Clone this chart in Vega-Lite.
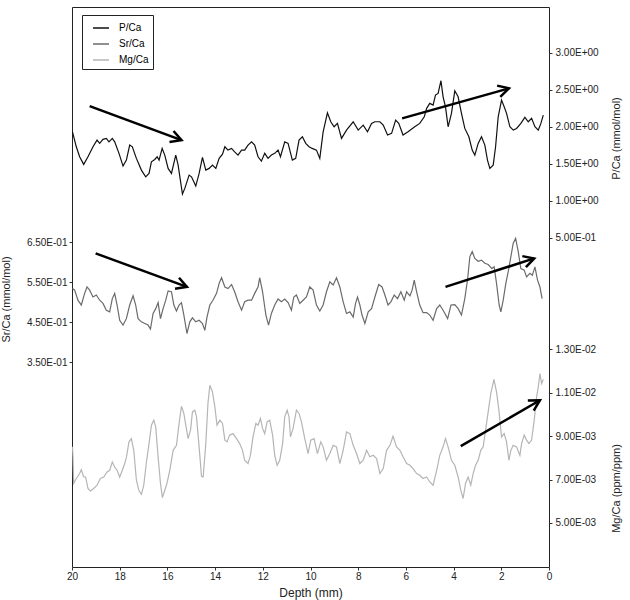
{
"$schema": "https://vega.github.io/schema/vega-lite/v6.json",
"width": 477,
"height": 560,
"autosize": {"type": "none"},
"padding": {"left": 72, "top": 7, "right": 81, "bottom": 33},
"background": "white",
"config": {
  "view": {"stroke": "#222222", "strokeWidth": 1},
  "font": "Liberation Sans",
  "axis": {"grid": false, "domain": false, "labelFont": "Liberation Sans", "labelFontSize": 10, "labelColor": "#222222", "titleFont": "Liberation Sans", "titleFontSize": 11, "titleFontWeight": "normal", "titleColor": "#222222", "tickColor": "#333333", "tickSize": 3, "labelPadding": 2},
  "axisX": {"labelFlush": false, "titleFontSize": 12, "labelPadding": 1},
  "legend": {"labelFont": "Liberation Sans"}
},
"datasets": {
  "pca": [
{"depth":19.98,"value":1.93},{"depth":19.82,"value":1.73},{"depth":19.68,"value":1.595},{"depth":19.51,"value":1.492},{"depth":19.33,"value":1.595},{"depth":19.12,"value":1.73},{"depth":18.95,"value":1.82},{"depth":18.84,"value":1.776},{"depth":18.70,"value":1.83},{"depth":18.56,"value":1.843},{"depth":18.45,"value":1.797},{"depth":18.31,"value":1.843},{"depth":18.21,"value":1.797},{"depth":18.03,"value":1.641},{"depth":17.86,"value":1.469},{"depth":17.72,"value":1.55},{"depth":17.58,"value":1.753},{"depth":17.47,"value":1.73},{"depth":17.30,"value":1.573},{"depth":17.09,"value":1.415},{"depth":16.91,"value":1.324},{"depth":16.77,"value":1.37},{"depth":16.67,"value":1.527},{"depth":16.53,"value":1.559},{"depth":16.43,"value":1.595},{"depth":16.35,"value":1.55},{"depth":16.22,"value":1.708},{"depth":16.11,"value":1.618},{"depth":15.97,"value":1.438},{"depth":15.83,"value":1.37},{"depth":15.65,"value":1.618},{"depth":15.55,"value":1.482},{"depth":15.37,"value":1.091},{"depth":15.27,"value":1.168},{"depth":15.09,"value":1.347},{"depth":14.99,"value":1.324},{"depth":14.81,"value":1.199},{"depth":14.67,"value":1.37},{"depth":14.53,"value":1.586},{"depth":14.39,"value":1.415},{"depth":14.25,"value":1.438},{"depth":14.11,"value":1.482},{"depth":13.97,"value":1.438},{"depth":13.83,"value":1.573},{"depth":13.69,"value":1.631},{"depth":13.59,"value":1.73},{"depth":13.46,"value":1.685},{"depth":13.31,"value":1.708},{"depth":13.18,"value":1.662},{"depth":13.04,"value":1.618},{"depth":12.89,"value":1.685},{"depth":12.76,"value":1.685},{"depth":12.62,"value":1.753},{"depth":12.47,"value":1.797},{"depth":12.34,"value":1.753},{"depth":12.20,"value":1.595},{"depth":12.06,"value":1.536},{"depth":11.92,"value":1.641},{"depth":11.78,"value":1.573},{"depth":11.64,"value":1.618},{"depth":11.50,"value":1.641},{"depth":11.36,"value":1.685},{"depth":11.26,"value":1.595},{"depth":11.08,"value":1.797},{"depth":10.94,"value":1.776},{"depth":10.76,"value":1.55},{"depth":10.62,"value":1.573},{"depth":10.48,"value":1.82},{"depth":10.34,"value":1.865},{"depth":10.20,"value":1.776},{"depth":10.06,"value":1.73},{"depth":9.93,"value":1.708},{"depth":9.75,"value":1.685},{"depth":9.61,"value":1.573},{"depth":9.47,"value":1.932},{"depth":9.29,"value":2.189},{"depth":9.15,"value":2.068},{"depth":9.01,"value":2.0},{"depth":8.87,"value":2.046},{"depth":8.70,"value":1.843},{"depth":8.49,"value":1.955},{"depth":8.21,"value":2.068},{"depth":8.00,"value":1.955},{"depth":7.79,"value":2.023},{"depth":7.61,"value":1.932},{"depth":7.44,"value":2.046},{"depth":7.30,"value":2.068},{"depth":7.09,"value":2.068},{"depth":6.95,"value":2.023},{"depth":6.77,"value":1.888},{"depth":6.60,"value":1.911},{"depth":6.43,"value":2.091},{"depth":6.30,"value":2.046},{"depth":6.12,"value":1.888},{"depth":5.91,"value":1.932},{"depth":5.63,"value":2.0},{"depth":5.42,"value":2.046},{"depth":5.23,"value":2.135},{"depth":5.13,"value":2.249},{"depth":5.00,"value":2.316},{"depth":4.86,"value":2.293},{"depth":4.76,"value":2.428},{"depth":4.65,"value":2.451},{"depth":4.53,"value":2.622},{"depth":4.44,"value":2.405},{"depth":4.34,"value":2.27},{"depth":4.23,"value":2.0},{"depth":4.09,"value":2.181},{"depth":3.95,"value":2.486},{"depth":3.81,"value":2.405},{"depth":3.67,"value":2.181},{"depth":3.53,"value":1.978},{"depth":3.36,"value":1.865},{"depth":3.22,"value":1.685},{"depth":3.11,"value":1.618},{"depth":2.97,"value":1.776},{"depth":2.83,"value":1.865},{"depth":2.69,"value":1.753},{"depth":2.58,"value":1.55},{"depth":2.48,"value":1.438},{"depth":2.34,"value":1.482},{"depth":2.24,"value":1.73},{"depth":2.13,"value":2.135},{"depth":1.99,"value":2.361},{"depth":1.88,"value":2.27},{"depth":1.78,"value":2.181},{"depth":1.64,"value":2.0},{"depth":1.50,"value":1.955},{"depth":1.36,"value":1.978},{"depth":1.18,"value":2.046},{"depth":1.01,"value":2.127},{"depth":0.87,"value":2.068},{"depth":0.73,"value":2.114},{"depth":0.59,"value":2.0},{"depth":0.45,"value":1.955},{"depth":0.34,"value":2.046},{"depth":0.24,"value":2.158}
  ],
  "srca": [
{"depth":19.98,"value":0.534},{"depth":19.89,"value":0.530},{"depth":19.75,"value":0.505},{"depth":19.61,"value":0.493},{"depth":19.47,"value":0.522},{"depth":19.37,"value":0.538},{"depth":19.26,"value":0.530},{"depth":19.12,"value":0.513},{"depth":18.98,"value":0.518},{"depth":18.84,"value":0.505},{"depth":18.70,"value":0.497},{"depth":18.56,"value":0.480},{"depth":18.42,"value":0.476},{"depth":18.31,"value":0.509},{"depth":18.21,"value":0.522},{"depth":18.11,"value":0.493},{"depth":18.00,"value":0.455},{"depth":17.86,"value":0.443},{"depth":17.72,"value":0.459},{"depth":17.58,"value":0.493},{"depth":17.44,"value":0.516},{"depth":17.33,"value":0.493},{"depth":17.23,"value":0.459},{"depth":17.09,"value":0.451},{"depth":16.95,"value":0.447},{"depth":16.81,"value":0.443},{"depth":16.71,"value":0.433},{"depth":16.60,"value":0.472},{"depth":16.49,"value":0.484},{"depth":16.39,"value":0.499},{"depth":16.29,"value":0.459},{"depth":16.18,"value":0.484},{"depth":16.07,"value":0.505},{"depth":15.97,"value":0.528},{"depth":15.83,"value":0.526},{"depth":15.73,"value":0.493},{"depth":15.62,"value":0.478},{"depth":15.51,"value":0.493},{"depth":15.41,"value":0.499},{"depth":15.31,"value":0.468},{"depth":15.18,"value":0.422},{"depth":15.06,"value":0.451},{"depth":14.95,"value":0.461},{"depth":14.81,"value":0.451},{"depth":14.67,"value":0.455},{"depth":14.53,"value":0.447},{"depth":14.43,"value":0.430},{"depth":14.34,"value":0.463},{"depth":14.22,"value":0.493},{"depth":14.09,"value":0.505},{"depth":13.94,"value":0.522},{"depth":13.83,"value":0.547},{"depth":13.73,"value":0.561},{"depth":13.59,"value":0.538},{"depth":13.46,"value":0.534},{"depth":13.31,"value":0.544},{"depth":13.18,"value":0.526},{"depth":13.04,"value":0.501},{"depth":12.89,"value":0.480},{"depth":12.76,"value":0.501},{"depth":12.62,"value":0.505},{"depth":12.47,"value":0.505},{"depth":12.34,"value":0.522},{"depth":12.20,"value":0.538},{"depth":12.13,"value":0.561},{"depth":12.01,"value":0.526},{"depth":11.87,"value":0.468},{"depth":11.76,"value":0.443},{"depth":11.64,"value":0.472},{"depth":11.50,"value":0.493},{"depth":11.36,"value":0.508},{"depth":11.22,"value":0.501},{"depth":11.08,"value":0.508},{"depth":10.94,"value":0.499},{"depth":10.80,"value":0.480},{"depth":10.70,"value":0.513},{"depth":10.59,"value":0.518},{"depth":10.45,"value":0.497},{"depth":10.31,"value":0.505},{"depth":10.17,"value":0.513},{"depth":10.03,"value":0.538},{"depth":9.89,"value":0.530},{"depth":9.75,"value":0.493},{"depth":9.61,"value":0.478},{"depth":9.47,"value":0.493},{"depth":9.33,"value":0.526},{"depth":9.19,"value":0.551},{"depth":9.05,"value":0.543},{"depth":8.91,"value":0.561},{"depth":8.77,"value":0.538},{"depth":8.63,"value":0.501},{"depth":8.49,"value":0.472},{"depth":8.35,"value":0.476},{"depth":8.21,"value":0.463},{"depth":8.11,"value":0.497},{"depth":8.03,"value":0.513},{"depth":7.93,"value":0.493},{"depth":7.84,"value":0.468},{"depth":7.72,"value":0.447},{"depth":7.58,"value":0.476},{"depth":7.44,"value":0.484},{"depth":7.30,"value":0.513},{"depth":7.14,"value":0.544},{"depth":7.00,"value":0.538},{"depth":6.88,"value":0.518},{"depth":6.75,"value":0.493},{"depth":6.63,"value":0.501},{"depth":6.49,"value":0.518},{"depth":6.35,"value":0.509},{"depth":6.21,"value":0.526},{"depth":6.07,"value":0.505},{"depth":5.97,"value":0.526},{"depth":5.83,"value":0.516},{"depth":5.74,"value":0.530},{"depth":5.65,"value":0.555},{"depth":5.55,"value":0.526},{"depth":5.42,"value":0.493},{"depth":5.28,"value":0.474},{"depth":5.13,"value":0.474},{"depth":5.00,"value":0.468},{"depth":4.86,"value":0.455},{"depth":4.71,"value":0.484},{"depth":4.58,"value":0.493},{"depth":4.44,"value":0.480},{"depth":4.25,"value":0.459},{"depth":4.11,"value":0.493},{"depth":3.95,"value":0.494},{"depth":3.81,"value":0.484},{"depth":3.67,"value":0.468},{"depth":3.53,"value":0.509},{"depth":3.41,"value":0.559},{"depth":3.32,"value":0.613},{"depth":3.22,"value":0.626},{"depth":3.11,"value":0.609},{"depth":2.97,"value":0.602},{"depth":2.83,"value":0.605},{"depth":2.69,"value":0.597},{"depth":2.55,"value":0.594},{"depth":2.40,"value":0.584},{"depth":2.30,"value":0.588},{"depth":2.20,"value":0.547},{"depth":2.09,"value":0.493},{"depth":2.02,"value":0.476},{"depth":1.92,"value":0.505},{"depth":1.81,"value":0.547},{"depth":1.71,"value":0.576},{"depth":1.60,"value":0.613},{"depth":1.50,"value":0.647},{"depth":1.40,"value":0.659},{"depth":1.29,"value":0.626},{"depth":1.18,"value":0.584},{"depth":1.04,"value":0.580},{"depth":0.94,"value":0.563},{"depth":0.80,"value":0.572},{"depth":0.70,"value":0.567},{"depth":0.59,"value":0.588},{"depth":0.48,"value":0.555},{"depth":0.38,"value":0.538},{"depth":0.29,"value":0.509}
  ],
  "mgca": [
{"depth":19.98,"value":0.00851},{"depth":19.96,"value":0.00805},{"depth":19.93,"value":0.00682},{"depth":19.82,"value":0.00705},{"depth":19.68,"value":0.00728},{"depth":19.61,"value":0.00746},{"depth":19.51,"value":0.00712},{"depth":19.43,"value":0.00712},{"depth":19.33,"value":0.00659},{"depth":19.23,"value":0.00648},{"depth":19.09,"value":0.00659},{"depth":18.95,"value":0.00674},{"depth":18.81,"value":0.00705},{"depth":18.67,"value":0.00712},{"depth":18.53,"value":0.00735},{"depth":18.42,"value":0.00743},{"depth":18.31,"value":0.00781},{"depth":18.21,"value":0.00758},{"depth":18.11,"value":0.00743},{"depth":18.00,"value":0.00712},{"depth":17.89,"value":0.00743},{"depth":17.79,"value":0.00774},{"depth":17.72,"value":0.00802},{"depth":17.61,"value":0.00874},{"depth":17.51,"value":0.00889},{"depth":17.41,"value":0.00835},{"depth":17.30,"value":0.00697},{"depth":17.19,"value":0.00648},{"depth":17.09,"value":0.00632},{"depth":16.99,"value":0.00674},{"depth":16.88,"value":0.00781},{"depth":16.77,"value":0.00866},{"depth":16.67,"value":0.00951},{"depth":16.57,"value":0.00974},{"depth":16.49,"value":0.00943},{"depth":16.39,"value":0.00805},{"depth":16.29,"value":0.00682},{"depth":16.21,"value":0.00617},{"depth":16.11,"value":0.00651},{"depth":16.02,"value":0.00682},{"depth":15.90,"value":0.00743},{"depth":15.76,"value":0.00835},{"depth":15.62,"value":0.00858},{"depth":15.51,"value":0.00959},{"depth":15.41,"value":0.01038},{"depth":15.31,"value":0.01005},{"depth":15.23,"value":0.00951},{"depth":15.13,"value":0.00889},{"depth":15.03,"value":0.00928},{"depth":14.95,"value":0.01012},{"depth":14.85,"value":0.01020},{"depth":14.78,"value":0.00989},{"depth":14.67,"value":0.00851},{"depth":14.57,"value":0.00715},{"depth":14.50,"value":0.00712},{"depth":14.39,"value":0.00866},{"depth":14.30,"value":0.01051},{"depth":14.22,"value":0.01135},{"depth":14.11,"value":0.01104},{"depth":14.01,"value":0.01035},{"depth":13.92,"value":0.00951},{"depth":13.80,"value":0.00974},{"depth":13.69,"value":0.00959},{"depth":13.59,"value":0.00882},{"depth":13.50,"value":0.00874},{"depth":13.39,"value":0.00905},{"depth":13.25,"value":0.00912},{"depth":13.10,"value":0.00889},{"depth":12.97,"value":0.00866},{"depth":12.85,"value":0.00835},{"depth":12.76,"value":0.00789},{"depth":12.62,"value":0.00774},{"depth":12.52,"value":0.00812},{"depth":12.41,"value":0.00897},{"depth":12.29,"value":0.00959},{"depth":12.20,"value":0.00951},{"depth":12.10,"value":0.00982},{"depth":12.01,"value":0.00936},{"depth":11.92,"value":0.00912},{"depth":11.82,"value":0.00966},{"depth":11.71,"value":0.00974},{"depth":11.59,"value":0.00905},{"depth":11.50,"value":0.00812},{"depth":11.40,"value":0.00766},{"depth":11.29,"value":0.00789},{"depth":11.17,"value":0.00866},{"depth":11.08,"value":0.00989},{"depth":10.98,"value":0.01020},{"depth":10.90,"value":0.00989},{"depth":10.84,"value":0.00897},{"depth":10.73,"value":0.00936},{"depth":10.59,"value":0.01020},{"depth":10.48,"value":0.01005},{"depth":10.38,"value":0.00966},{"depth":10.24,"value":0.00889},{"depth":10.10,"value":0.00820},{"depth":9.99,"value":0.00882},{"depth":9.85,"value":0.00889},{"depth":9.71,"value":0.00820},{"depth":9.57,"value":0.00874},{"depth":9.47,"value":0.00851},{"depth":9.33,"value":0.00789},{"depth":9.19,"value":0.00820},{"depth":9.05,"value":0.00858},{"depth":8.91,"value":0.00851},{"depth":8.77,"value":0.00774},{"depth":8.63,"value":0.00835},{"depth":8.49,"value":0.00920},{"depth":8.35,"value":0.00912},{"depth":8.21,"value":0.00858},{"depth":8.07,"value":0.00820},{"depth":7.93,"value":0.00774},{"depth":7.79,"value":0.00789},{"depth":7.65,"value":0.00835},{"depth":7.51,"value":0.00805},{"depth":7.37,"value":0.00812},{"depth":7.23,"value":0.00797},{"depth":7.09,"value":0.00728},{"depth":6.95,"value":0.00751},{"depth":6.81,"value":0.00835},{"depth":6.67,"value":0.00858},{"depth":6.54,"value":0.00900},{"depth":6.39,"value":0.00851},{"depth":6.25,"value":0.00835},{"depth":6.12,"value":0.00805},{"depth":5.97,"value":0.00774},{"depth":5.83,"value":0.00766},{"depth":5.70,"value":0.00751},{"depth":5.55,"value":0.00728},{"depth":5.42,"value":0.00720},{"depth":5.28,"value":0.00705},{"depth":5.13,"value":0.00712},{"depth":5.00,"value":0.00689},{"depth":4.86,"value":0.00674},{"depth":4.71,"value":0.00743},{"depth":4.58,"value":0.00812},{"depth":4.44,"value":0.00851},{"depth":4.34,"value":0.00889},{"depth":4.23,"value":0.00851},{"depth":4.09,"value":0.00789},{"depth":3.95,"value":0.00766},{"depth":3.81,"value":0.00712},{"depth":3.70,"value":0.00651},{"depth":3.60,"value":0.00613},{"depth":3.50,"value":0.00682},{"depth":3.39,"value":0.00712},{"depth":3.28,"value":0.00674},{"depth":3.18,"value":0.00728},{"depth":3.08,"value":0.00766},{"depth":2.97,"value":0.00789},{"depth":2.86,"value":0.00835},{"depth":2.76,"value":0.00851},{"depth":2.66,"value":0.00928},{"depth":2.55,"value":0.01012},{"depth":2.44,"value":0.01097},{"depth":2.31,"value":0.01162},{"depth":2.20,"value":0.01104},{"depth":2.10,"value":0.01020},{"depth":1.99,"value":0.00897},{"depth":1.88,"value":0.00912},{"depth":1.78,"value":0.00874},{"depth":1.68,"value":0.00789},{"depth":1.60,"value":0.00835},{"depth":1.50,"value":0.00858},{"depth":1.36,"value":0.00851},{"depth":1.22,"value":0.00812},{"depth":1.15,"value":0.00866},{"depth":1.04,"value":0.00905},{"depth":0.94,"value":0.00882},{"depth":0.84,"value":0.00866},{"depth":0.73,"value":0.00882},{"depth":0.62,"value":0.00974},{"depth":0.52,"value":0.01081},{"depth":0.45,"value":0.01127},{"depth":0.38,"value":0.01189},{"depth":0.31,"value":0.01143},{"depth":0.24,"value":0.01162}
  ],
  "arrows": [
    {"id":"a1","series":"P/Ca","depth":19.26,"value":2.28,"depth2":15.41,"value2":1.82},
    {"id":"a2","series":"P/Ca","depth":6.16,"value":2.114,"depth2":1.68,"value2":2.519},
    {"id":"a3","series":"Sr/Ca","depth":19.01,"value":0.6216,"depth2":15.18,"value2":0.5383},
    {"id":"a4","series":"Sr/Ca","depth":4.34,"value":0.5383,"depth2":0.62,"value2":0.6091},
    {"id":"a5","series":"Mg/Ca","depth":3.70,"value":0.00854,"depth2":0.38,"value2":0.01066}
  ]
},
"layer": [
  {
    "data": {"name": "pca"},
    "mark": {"type": "line", "strokeWidth": 1.2},
    "encoding": {
      "x": {"field": "depth", "type": "quantitative", "scale": {"domain": [20, 0], "nice": false, "zero": false}, "axis": {"title": "Depth (mm)", "values": [0,2,4,6,8,10,12,14,16,18,20], "format": "d", "titleBaseline": "top", "titleY": 20}},
      "y": {"field": "value", "type": "quantitative", "scale": {"domain": [-3.946, 3.618], "nice": false, "zero": false}, "axis": {"orient": "right", "title": "P/Ca (mmol/mol)", "values": [0.5,1,1.5,2,2.5,3], "labelExpr": "datum.value < 1 ? format(datum.value*10, '.2f') + 'E-01' : format(datum.value, '.2f') + 'E+00'", "titleAngle": 270, "titleAlign": "center", "titleBaseline": "middle", "titleX": 67, "titleY": 131, "labelPadding": 3}},
      "color": {"datum": "P/Ca", "type": "nominal", "scale": {"domain": ["P/Ca","Sr/Ca","Mg/Ca"], "range": ["#111111","#6b6b6b","#b5b5b5"]}, "legend": {"orient": "none", "legendX": 10, "legendY": 8, "title": null, "strokeColor": "#222222", "fillColor": "white", "padding": 4, "symbolOffset": 6, "symbolType": "stroke", "symbolSize": 256, "symbolStrokeWidth": 1.5, "labelFontSize": 10, "labelOffset": 9, "rowPadding": 2, "labelExpr": "datum.label + '        '"}}
    }
  },
  {
    "data": {"name": "srca"},
    "mark": {"type": "line", "strokeWidth": 1.2},
    "encoding": {
      "x": {"field": "depth", "type": "quantitative", "scale": {"domain": [20, 0], "nice": false, "zero": false}},
      "y": {"field": "value", "type": "quantitative", "scale": {"domain": [-0.16, 1.2358], "nice": false, "zero": false}, "axis": {"orient": "left", "title": "Sr/Ca (mmol/mol)", "values": [0.35,0.45,0.55,0.65], "labelExpr": "format(datum.value*10, '.2f') + 'E-01'", "titleAngle": 270, "titleAlign": "center", "titleBaseline": "middle", "titleX": -66, "titleY": 292}},
      "color": {"datum": "Sr/Ca", "type": "nominal", "scale": {"domain": ["P/Ca","Sr/Ca","Mg/Ca"], "range": ["#111111","#6b6b6b","#b5b5b5"]}}
    }
  },
  {
    "data": {"name": "mgca"},
    "mark": {"type": "line", "strokeWidth": 1.2},
    "encoding": {
      "x": {"field": "depth", "type": "quantitative", "scale": {"domain": [20, 0], "nice": false, "zero": false}},
      "y": {"field": "value", "type": "quantitative", "scale": {"domain": [0.00297, 0.02879], "nice": false, "zero": false}, "axis": {"orient": "right", "title": "Mg/Ca (ppm/ppm)", "values": [0.005,0.007,0.009,0.011,0.013], "labelExpr": "datum.value >= 0.01 ? format(datum.value*100, '.2f') + 'E-02' : format(datum.value*1000, '.2f') + 'E-03'", "titleAngle": 270, "titleAlign": "center", "titleBaseline": "middle", "titleX": 67, "titleY": 481, "labelPadding": 3}},
      "color": {"datum": "Mg/Ca", "type": "nominal", "scale": {"domain": ["P/Ca","Sr/Ca","Mg/Ca"], "range": ["#111111","#6b6b6b","#b5b5b5"]}}
    }
  },
  {
    "data": {"name": "arrows"},
    "transform": [{"filter": "datum.series == 'P/Ca'"}],
    "mark": {"type": "rule", "strokeWidth": 2.5, "color": "#000000"},
    "encoding": {
      "x": {"field": "depth", "type": "quantitative", "scale": {"domain": [20, 0], "nice": false, "zero": false}},
      "x2": {"field": "depth2"},
      "y": {"field": "value", "type": "quantitative", "scale": {"domain": [-3.946, 3.618], "nice": false, "zero": false}, "axis": null},
      "y2": {"field": "value2"}
    }
  },
  {
    "data": {"name": "arrows"},
    "transform": [{"filter": "datum.series == 'Sr/Ca'"}],
    "mark": {"type": "rule", "strokeWidth": 2.5, "color": "#000000"},
    "encoding": {
      "x": {"field": "depth", "type": "quantitative", "scale": {"domain": [20, 0], "nice": false, "zero": false}},
      "x2": {"field": "depth2"},
      "y": {"field": "value", "type": "quantitative", "scale": {"domain": [-0.16, 1.2358], "nice": false, "zero": false}, "axis": null},
      "y2": {"field": "value2"}
    }
  },
  {
    "data": {"name": "arrows"},
    "transform": [{"filter": "datum.series == 'Mg/Ca'"}],
    "mark": {"type": "rule", "strokeWidth": 2.5, "color": "#000000"},
    "encoding": {
      "x": {"field": "depth", "type": "quantitative", "scale": {"domain": [20, 0], "nice": false, "zero": false}},
      "x2": {"field": "depth2"},
      "y": {"field": "value", "type": "quantitative", "scale": {"domain": [0.00297, 0.02879], "nice": false, "zero": false}, "axis": null},
      "y2": {"field": "value2"}
    }
  },
  {
    "data": {"name": "arrows"},
    "transform": [{"filter": "datum.id == 'a1'"}],
    "mark": {"type": "point", "shape": "M-1,-0.55L0,0L-1,0.55", "filled": false, "stroke": "#000000", "strokeWidth": 2.5, "size": 450, "angle": 20.3, "opacity": 1},
    "encoding": {
      "x": {"field": "depth2", "type": "quantitative", "scale": {"domain": [20, 0], "nice": false, "zero": false}},
      "y": {"field": "value2", "type": "quantitative", "scale": {"domain": [-3.946, 3.618], "nice": false, "zero": false}, "axis": null}
    }
  },
  {
    "data": {"name": "arrows"},
    "transform": [{"filter": "datum.id == 'a2'"}],
    "mark": {"type": "point", "shape": "M-1,-0.55L0,0L-1,0.55", "filled": false, "stroke": "#000000", "strokeWidth": 2.5, "size": 450, "angle": -15.7, "opacity": 1},
    "encoding": {
      "x": {"field": "depth2", "type": "quantitative", "scale": {"domain": [20, 0], "nice": false, "zero": false}},
      "y": {"field": "value2", "type": "quantitative", "scale": {"domain": [-3.946, 3.618], "nice": false, "zero": false}, "axis": null}
    }
  },
  {
    "data": {"name": "arrows"},
    "transform": [{"filter": "datum.id == 'a3'"}],
    "mark": {"type": "point", "shape": "M-1,-0.55L0,0L-1,0.55", "filled": false, "stroke": "#000000", "strokeWidth": 2.5, "size": 450, "angle": 20.1, "opacity": 1},
    "encoding": {
      "x": {"field": "depth2", "type": "quantitative", "scale": {"domain": [20, 0], "nice": false, "zero": false}},
      "y": {"field": "value2", "type": "quantitative", "scale": {"domain": [-0.16, 1.2358], "nice": false, "zero": false}, "axis": null}
    }
  },
  {
    "data": {"name": "arrows"},
    "transform": [{"filter": "datum.id == 'a4'"}],
    "mark": {"type": "point", "shape": "M-1,-0.55L0,0L-1,0.55", "filled": false, "stroke": "#000000", "strokeWidth": 2.5, "size": 450, "angle": -17.8, "opacity": 1},
    "encoding": {
      "x": {"field": "depth2", "type": "quantitative", "scale": {"domain": [20, 0], "nice": false, "zero": false}},
      "y": {"field": "value2", "type": "quantitative", "scale": {"domain": [-0.16, 1.2358], "nice": false, "zero": false}, "axis": null}
    }
  },
  {
    "data": {"name": "arrows"},
    "transform": [{"filter": "datum.id == 'a5'"}],
    "mark": {"type": "point", "shape": "M-1,-0.55L0,0L-1,0.55", "filled": false, "stroke": "#000000", "strokeWidth": 2.5, "size": 450, "angle": -30.2, "opacity": 1},
    "encoding": {
      "x": {"field": "depth2", "type": "quantitative", "scale": {"domain": [20, 0], "nice": false, "zero": false}},
      "y": {"field": "value2", "type": "quantitative", "scale": {"domain": [0.00297, 0.02879], "nice": false, "zero": false}, "axis": null}
    }
  }
],
"resolve": {"scale": {"y": "independent"}, "axis": {"y": "independent"}}
}
